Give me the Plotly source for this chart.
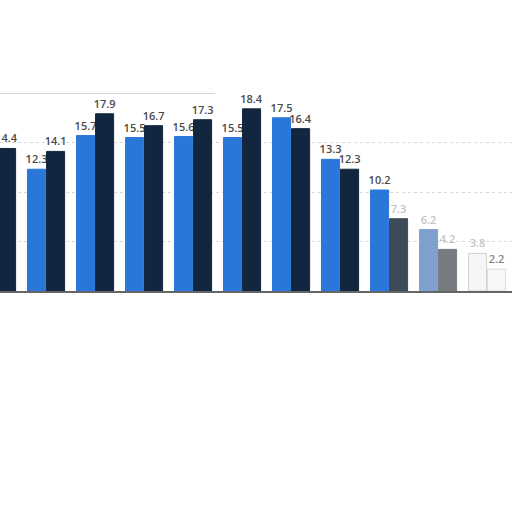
import plotly.graph_objects as go

# Groups (axis labels are not readable in the picture)
groups = ["G1", "G2", "G3", "G4", "G5", "G6", "G7", "G8", "G9", "G10", "G11"]

# Blue series (first bar of each group); the first one is cut off
series_a = [None, 12.3, 15.7, 15.5, 15.6, 15.5, 17.5, 13.3, 10.2, 6.2, 3.8]
# Dark series (second bar of each group)
series_b = [14.4, 14.1, 17.9, 16.7, 17.3, 18.4, 16.4, 12.3, 7.3, 4.2, 2.2]

BLUE = "#2a77d9"
NAVY = "#12273f"

# the right end of the picture is washed out
colors_a = [BLUE] * 9 + ["#7f9fcf", "#f6f6f6"]
colors_b = [NAVY] * 8 + ["#3d4a58", "#777b80", "#f8f8f8"]
lines_a = [BLUE] * 9 + ["#7f9fcf", "#d0d0d0"]
lines_b = [NAVY] * 8 + ["#3d4a58", "#777b80", "#dcdcdc"]
text_a = ["#4a4a4a"] * 9 + ["#c4c4c4", "#c4c4c4"]
text_b = ["#4a4a4a"] * 8 + ["#c4c4c4", "#c4c4c4", "#888"]


def fmt(vals):
    return ["" if v is None else f"{v:.1f}" for v in vals]


fig = go.Figure()
fig.add_trace(go.Bar(
    x=groups, y=series_a, name="A",
    marker=dict(color=colors_a, line=dict(color=lines_a, width=1)),
    text=fmt(series_a), textposition="outside", cliponaxis=False,
    textfont=dict(family="Open Sans", size=11, color=text_a, weight=600),
))
fig.add_trace(go.Bar(
    x=groups, y=series_b, name="B",
    marker=dict(color=colors_b, line=dict(color=lines_b, width=1)),
    text=fmt(series_b), textposition="outside", cliponaxis=False,
    textfont=dict(family="Open Sans", size=11, color=text_b, weight=600),
))

fig.update_layout(
    width=512, height=512,
    margin=dict(l=0, r=0, t=93, b=221),
    paper_bgcolor="white", plot_bgcolor="white",
    barmode="group", bargap=0.224, bargroupgap=0.05,
    showlegend=False,
    uniformtext=dict(minsize=11, mode="show"),
)
fig.update_xaxes(
    range=[0.06, 10.509], showticklabels=False, showgrid=False,
    showline=True, linecolor="#666", linewidth=1.5, zeroline=False,
)
fig.update_yaxes(
    range=[0, 20], dtick=5, showticklabels=False,
    showgrid=True, gridcolor="#d8d8d8", griddash="dot", zeroline=False,
    showline=False,
)
# grey frame line at the top, only on the left part
fig.add_shape(type="line", xref="paper", yref="y", x0=0, x1=0.42, y0=20, y1=20,
              line=dict(color="#c8c8c8", width=1.5))

# no page margin, so the chart sits flush with the window edge
fig.write_html("out.html", config={"displayModeBar": False},
               post_script="document.body.style.margin='0';")
